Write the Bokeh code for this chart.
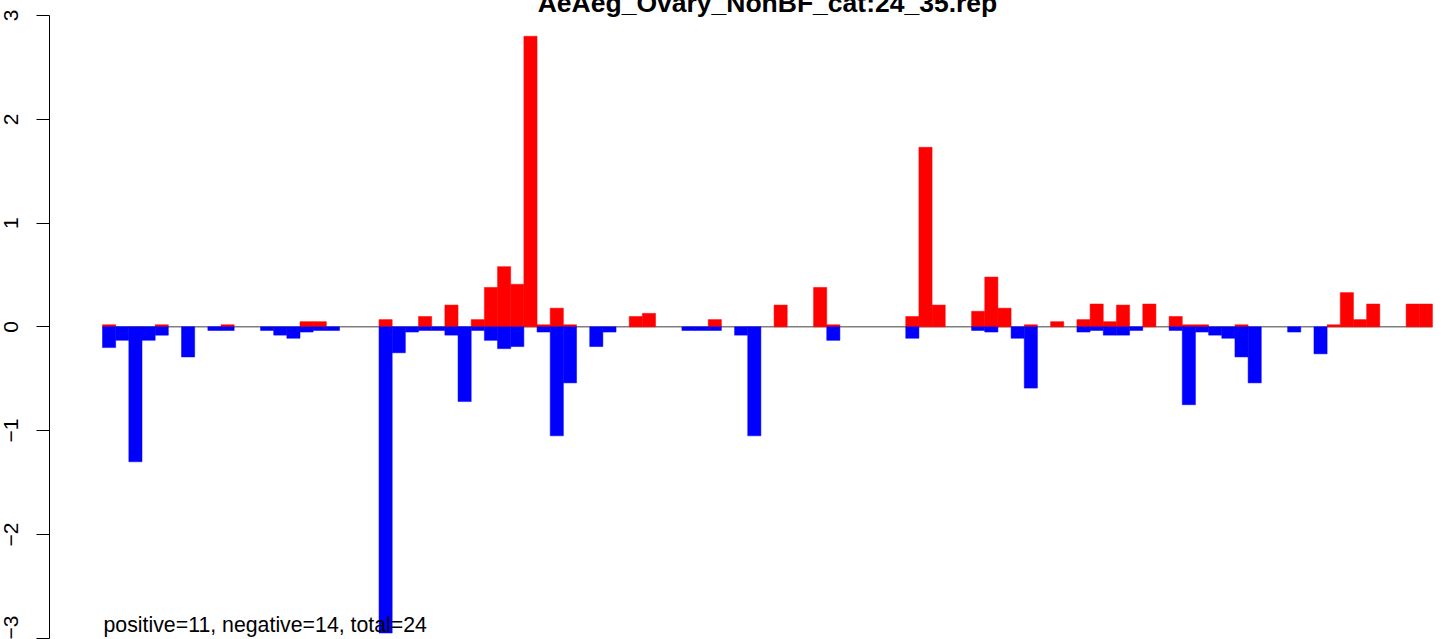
from bokeh.plotting import figure
from bokeh.models import Range1d, FixedTicker, ColumnDataSource
from bokeh.core.properties import value
from bokeh.embed import file_html
from bokeh.resources import INLINE

# ---- data ----
bins = list(range(101))
pos_vals = [
    0.02, 0, 0, 0, 0.02, 0, 0, 0, 0, 0.02,
    0, 0, 0, 0, 0, 0.05, 0.05, 0, 0, 0,
    0, 0.07, 0, 0, 0.10, 0, 0.21, 0, 0.07, 0.38,
    0.58, 0.41, 2.80, 0.02, 0.18, 0.02, 0, 0, 0, 0,
    0.10, 0.13, 0, 0, 0, 0, 0.07, 0, 0, 0,
    0, 0.21, 0, 0, 0.38, 0.02, 0, 0, 0, 0,
    0, 0.10, 1.73, 0.21, 0, 0, 0.15, 0.48, 0.18, 0,
    0.02, 0, 0.05, 0, 0.07, 0.22, 0.05, 0.21, 0, 0.22,
    0, 0.10, 0.02, 0.02, 0, 0, 0.02, 0, 0, 0,
    0, 0, 0, 0.02, 0.33, 0.07, 0.22, 0, 0, 0.22,
    0.22,
]
neg_vals = [
    -0.20, -0.13, -1.30, -0.13, -0.08, 0, -0.29, 0, -0.035, -0.035,
    0, 0, -0.035, -0.08, -0.11, -0.05, -0.035, -0.035, 0, 0,
    0, -2.95, -0.25, -0.05, -0.035, -0.035, -0.08, -0.72, -0.035, -0.13,
    -0.21, -0.19, 0, -0.05, -1.05, -0.54, 0, -0.19, -0.05, 0,
    0, 0, 0, 0, -0.035, -0.035, -0.035, 0, -0.08, -1.05,
    0, 0, 0, 0, 0, -0.13, 0, 0, 0, 0,
    0, -0.11, 0, 0, 0, 0, -0.035, -0.05, 0, -0.11,
    -0.59, 0, 0, 0, -0.05, -0.035, -0.08, -0.08, -0.035, 0,
    0, -0.035, -0.75, -0.05, -0.08, -0.11, -0.29, -0.54, 0, 0,
    -0.05, 0, -0.26, 0, 0, 0, 0, 0, 0, 0,
    0,
]
y_ticks = [-3, -2, -1, 0, 1, 2, 3]
y_tick_labels = ["\u22123", "\u22122", "\u22121", "0", "1", "2", "3"]
title_text = "AeAeg_Ovary_NonBF_cat:24_35.rep"
summary_text = "positive=11, negative=14, total=24"

FONT = "Liberation Sans"


def bar_source(vals):
    idx = [b for b, v in zip(bins, vals) if v != 0]
    return ColumnDataSource(dict(
        left=idx,
        right=[b + 1 for b in idx],
        val=[vals[b] for b in idx],
        zero=[0] * len(idx),
    ))


pos_src = bar_source(pos_vals)
neg_src = bar_source(neg_vals)

p = figure(
    width=1440, height=653,
    frame_width=1391, frame_height=653,
    x_range=Range1d(-4.025, 101.61),
    y_range=Range1d(-3.0125, 3.2794),
    x_axis_type=None,
    output_backend="svg",
    toolbar_location=None,
    min_border_left=0, min_border_right=0, min_border_top=0, min_border_bottom=0,
)
p.styles = {"margin-top": "-14px", "margin-bottom": "-16px", "margin-left": "1px"}
p.outline_line_color = None
p.grid.visible = False
p.background_fill_color = "white"
p.border_fill_color = "white"

# zero line under the bars
p.line(x=[bins[0], bins[-1] + 1], y=[0, 0], line_color="#7f7f7f", line_width=1.5)

p.quad(left="left", right="right", bottom="zero", top="val", source=pos_src,
       fill_color="#FF0000", line_color="#FF0000", line_width=0.5)
p.quad(left="left", right="right", bottom="val", top="zero", source=neg_src,
       fill_color="#0000FF", line_color="#0000FF", line_width=0.5)

# y axis
ax = p.yaxis[0]
ax.ticker = FixedTicker(ticks=y_ticks)
ax.major_label_overrides = {t: l for t, l in zip(y_ticks, y_tick_labels)}
ax.bounds = (y_ticks[0], y_ticks[-1])
ax.minor_tick_line_color = None
ax.major_tick_in = 0
ax.major_tick_out = 13
ax.major_label_orientation = "vertical"
ax.major_label_standoff = 18
ax.major_label_text_font = FONT
ax.major_label_text_font_size = "21px"
ax.major_label_text_color = "black"
ax.axis_line_color = "black"
ax.major_tick_line_color = "black"

# title (partly cut off at the top like the reference)
p.text(x=[(bins[0] + bins[-1] + 1) / 2], y=[3.12], text=[title_text],
       text_font=value(FONT), text_font_style="bold", text_font_size="26.5px",
       text_align="center", text_baseline="alphabetic", text_color="black")

# summary text
p.text(x=[0.076], y=[-2.872], text=[summary_text],
       text_font=value(FONT), text_font_size="21.3px",
       text_align="left", text_baseline="alphabetic", text_color="black")

open("out.html", "w").write(file_html(p, INLINE))
